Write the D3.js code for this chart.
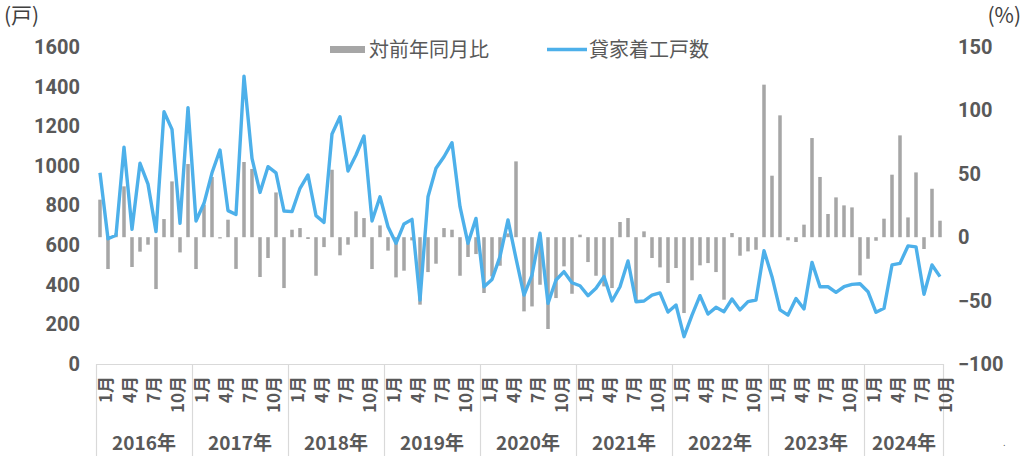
<!DOCTYPE html>
<html>
<head>
<meta charset="utf-8">
<script src="https://cdn.jsdelivr.net/npm/d3@7/dist/d3.min.js"></script>
<style>
  html, body { margin: 0; padding: 0; background: #fff; }
  svg { display: block; }
  .num { font-family: "Liberation Sans Narrow", "Roboto", "Noto Sans CJK JP", sans-serif; }
  .cjk { font-family: "Liberation Sans Narrow", "Noto Sans CJK JP", sans-serif; }
</style>
</head>
<body>
<svg id="chart" width="1024" height="456"></svg>
<script>
// ---- data ----
const years = ["2016年","2017年","2018年","2019年","2020年","2021年","2022年","2023年","2024年"];
const monthTickLabels = ["1月","4月","7月","10月"];
const monthTickIndex = [0, 3, 6, 9];
const leftTicks = [0,200,400,600,800,1000,1200,1400,1600];
const rightTicks = [-100,-50,0,50,100,150];
const seriesNames = ["対前年同月比", "貸家着工戸数"];

// 貸家着工戸数 (戸), monthly Jan 2016 - Oct 2024
const starts = [
  965, 632, 650, 1094, 680, 1013, 908, 668, 1273, 1184, 710, 1294,
  722, 811, 965, 1080, 774, 755, 1453, 1038, 866, 996, 965, 772,
  769, 887, 954, 749, 715, 1161, 1248, 974, 1055, 1151, 722, 844,
  693, 609, 707, 730, 323, 844, 988, 1046, 1117, 794, 609, 735,
  390, 427, 542, 727, 533, 348, 449, 660, 306, 424, 466, 410,
  395, 345, 382, 441, 318, 390, 520, 314, 318, 348, 359, 262,
  298, 138, 247, 345, 252, 286, 264, 328, 273, 315, 323, 572,
  441, 273, 247, 331, 278, 513, 390, 390, 362, 390, 402, 405,
  365, 261, 281, 500, 508, 596, 591, 352, 500, 441
];
// 対前年同月比 (%)
const yoy = [
  29.6, -25.1, 3, 40.1, -23.5, -11.4, -5.9, -40.9, 14.3, 44, -12, 57.7,
  -25.1, 25.6, 47.5, -1, 13.8, -25, 59.3, 53.8, -31.4, -16.4, 35.3, -40.1,
  5.9, 7.2, -1.4, -30.4, -7.8, 53.2, -14.3, -5.9, 20.4, 15.1, -25.1, 9.3,
  -10.6, -31.7, -26.4, -2.5, -53.2, -27.5, -20.9, 7.2, 5.9, -30.4, -15.6, -13.3,
  -44, -30.9, -22.5, 3, 59.8, -58.5, -54.6, -37.5, -72.4, -48, -23, -44.6,
  2, -19.6, -30.4, -38.8, -40.1, 12, 15.1, -50, 4.6, -16.4, -23.8, -36.1,
  -24.3, -59.8, -34, -22.2, -20.4, -27.5, -49.3, 3.3, -14.6, -11.2, -9.9, 120.3,
  48.5, 96.1, -2.5, -3.8, 9.9, 78.2, 47.5, 18.3, 31.4, 25.1, 23.5, -30.1,
  -17, -2.8, 14.6, 49.3, 80.3, 15.6, 51.1, -9.3, 38.2, 13
];

// ---- layout ----
const svg = d3.select("#chart");
const X0 = 96, X1 = 944, YB = 364, YT = 47;
const barColor = "#A6A6A6", lineColor = "#4DB0EA", textColor = "#595959", gridColor = "#D9D9D9";

const idx = d3.range(starts.length);
const x = d3.scaleBand().domain(idx).range([X0, X1]).padding(0);
const yL = d3.scaleLinear().domain([0, 1600]).range([YB, YT]);
const yR = d3.scaleLinear().domain([-100, 150]).range([YB, YT]);
const bw = x.bandwidth() * 0.44;
const cx = i => x(i) + x.bandwidth() / 2;

// bars
svg.append("g").selectAll("rect").data(yoy).join("rect")
  .attr("x", (d, i) => cx(i) - bw / 2)
  .attr("y", d => Math.min(yR(d), yR(0)))
  .attr("width", bw)
  .attr("height", d => Math.abs(yR(d) - yR(0)))
  .attr("fill", barColor);

// line
const line = d3.line().x((d, i) => cx(i)).y(d => yL(d));
svg.append("path").datum(starts)
  .attr("d", line)
  .attr("fill", "none")
  .attr("stroke", lineColor)
  .attr("stroke-width", 3.4)
  .attr("stroke-linejoin", "round");

// left axis
const gL = svg.append("g").attr("class", "num").attr("transform", `translate(80,0)`)
  .call(d3.axisLeft(yL).tickValues(leftTicks).tickSize(0).tickPadding(0).tickFormat(d3.format("d")));
gL.select(".domain").remove();
gL.selectAll("text").attr("font-size", 20).attr("font-weight", "bold").attr("fill", textColor)
  .attr("font-family", null);

// right axis
const gR = svg.append("g").attr("class", "num").attr("transform", `translate(958,0)`)
  .call(d3.axisRight(yR).tickValues(rightTicks).tickSize(0).tickPadding(0).tickFormat(d3.format("d")));
gR.select(".domain").remove();
gR.selectAll("text").attr("font-size", 20).attr("font-weight", "bold").attr("fill", textColor)
  .attr("font-family", null);

// unit labels
svg.append("text").attr("class", "cjk").attr("x", 4).attr("y", 23)
  .attr("font-size", 21).attr("fill", "#404040").text("(戸)");
svg.append("text").attr("class", "cjk").attr("x", 1021).attr("y", 23).attr("text-anchor", "end")
  .attr("font-size", 21).attr("fill", "#404040").text("(%)");

// x axis frame
const yearStarts = years.map((y, k) => k * 12);
svg.append("line").attr("x1", X0).attr("x2", X1 - 1).attr("y1", YB + 0.5).attr("y2", YB + 0.5)
  .attr("stroke", gridColor).attr("stroke-width", 1.2);
const bounds = yearStarts.map(i => x(i)).concat([X1 - 1]);
svg.append("g").selectAll("line").data(bounds).join("line")
  .attr("x1", d => d + 0.5).attr("x2", d => d + 0.5)
  .attr("y1", YB).attr("y2", 456)
  .attr("stroke", gridColor).attr("stroke-width", 1.2);

// month labels
const mticks = [];
yearStarts.forEach(s => monthTickIndex.forEach((m, j) => {
  if (s + m < starts.length) mticks.push({ i: s + m, label: monthTickLabels[j] });
}));
svg.append("g").attr("class", "cjk").selectAll("text").data(mticks).join("text")
  .attr("transform", d => `translate(${cx(d.i) + 6},376) rotate(-90)`)
  .attr("text-anchor", "end").attr("dy", "0.35em")
  .attr("font-size", 17).attr("font-weight", "bold").attr("fill", textColor)
  .text(d => d.label);

// year labels
svg.append("g").attr("class", "cjk").selectAll("text").data(years).join("text")
  .attr("x", (d, k) => {
    const a = x(k * 12), b = k < years.length - 1 ? x((k + 1) * 12) : X1;
    return (a + b) / 2;
  })
  .attr("y", 450).attr("text-anchor", "middle")
  .attr("font-size", 19).attr("font-weight", "bold").attr("fill", textColor)
  .text(d => d);

// legend
const lg = svg.append("g").attr("class", "cjk");
lg.append("rect").attr("x", 330).attr("y", 46).attr("width", 35).attr("height", 7).attr("fill", barColor);
lg.append("text").attr("x", 369).attr("y", 57).attr("font-size", 20).attr("fill", textColor).text(seriesNames[0]);
lg.append("line").attr("x1", 547).attr("x2", 587).attr("y1", 49.5).attr("y2", 49.5)
  .attr("stroke", lineColor).attr("stroke-width", 3.4);
lg.append("text").attr("x", 589).attr("y", 57).attr("font-size", 20).attr("fill", textColor).text(seriesNames[1]);

// stray mark bottom right
svg.append("text").attr("class", "num").attr("x", 1003).attr("y", 446).attr("font-size", 10).attr("fill", textColor).text(".");
</script>
</body>
</html>
